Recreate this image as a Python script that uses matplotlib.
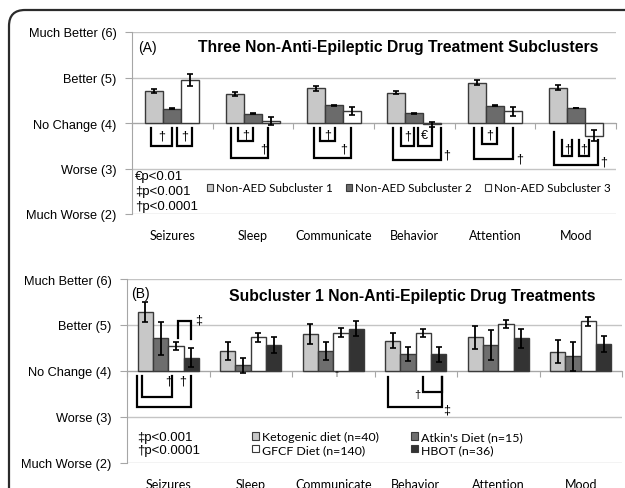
import matplotlib
matplotlib.use('Agg')
import matplotlib.pyplot as plt
from matplotlib.patches import Patch, FancyBboxPatch
import numpy as np

plt.rcParams['font.family'] = ['Liberation Sans', 'DejaVu Sans']

categories = ['Seizures', 'Sleep', 'Communicate', 'Behavior', 'Attention', 'Mood']
y_ticks = [2, 3, 4, 5, 6]
y_labels = ['Much Worse (2)', 'Worse (3)', 'No Change (4)', 'Better (5)', 'Much Better (6)']

# panel A - three non-AED subclusters
a_names = ['Non-AED Subcluster 1', 'Non-AED Subcluster 2', 'Non-AED Subcluster 3']
a_sub1 = [4.70, 4.64, 4.76, 4.67, 4.89, 4.78]
a_sub1_err = [0.05, 0.05, 0.05, 0.04, 0.05, 0.05]
a_sub2 = [4.31, 4.20, 4.39, 4.21, 4.38, 4.33]
a_sub2_err = [0.01, 0.01, 0.015, 0.01, 0.015, 0.01]
a_sub3 = [4.95, 4.04, 4.26, 3.97, 4.26, 3.72]
a_sub3_err = [0.13, 0.09, 0.09, 0.05, 0.10, 0.12]

# panel B - subcluster 1 treatments
b_names = ['Ketogenic diet (n=40)', "Atkin's Diet (n=15)", 'GFCF Diet (n=140)', 'HBOT (n=36)']
b_keto = [5.28, 4.43, 4.80, 4.66, 4.73, 4.42]
b_keto_err = [0.22, 0.20, 0.22, 0.17, 0.25, 0.25]
b_atkin = [4.71, 4.12, 4.43, 4.37, 4.57, 4.32]
b_atkin_err = [0.36, 0.17, 0.19, 0.16, 0.33, 0.31]
b_gfcf = [4.54, 4.73, 4.83, 4.83, 5.02, 5.08]
b_gfcf_err = [0.08, 0.09, 0.10, 0.08, 0.09, 0.10]
b_hbot = [4.29, 4.57, 4.92, 4.36, 4.71, 4.59]
b_hbot_err = [0.20, 0.17, 0.16, 0.17, 0.20, 0.17]

# significance brackets: (category, x1 offset, x2 offset, top1, top2, level)
a_brackets = [
    (0, -0.26, 0.0, 3.89, 3.89, 3.49), (0, 0.062, 0.248, 3.89, 3.89, 3.49),
    (1, -0.18, 0.0, 3.9, 3.9, 3.6), (1, -0.27, 0.19, 3.9, 3.9, 3.23),
    (2, -0.17, 0.02, 3.9, 3.9, 3.6), (2, -0.25, 0.22, 3.9, 3.9, 3.23),
    (3, -0.16, 0.0, 3.9, 3.9, 3.5), (3, 0.04, 0.22, 3.9, 3.88, 3.5),
    (3, -0.26, 0.33, 3.9, 3.9, 3.19),
    (4, -0.16, 0.03, 3.9, 3.9, 3.54), (4, -0.26, 0.225, 3.9, 3.9, 3.21),
    (5, -0.17, -0.04, 3.63, 3.63, 3.27), (5, 0.04, 0.17, 3.63, 3.63, 3.27),
    (5, -0.27, 0.28, 3.8, 3.62, 3.07),
]
a_marks = [
    (0, -0.13, 3.72, '†', 9), (0, 0.155, 3.72, '†', 9),
    (1, -0.09, 3.75, '†', 9), (1, 0.13, 3.43, '†', 9),
    (2, -0.075, 3.75, '†', 9), (2, 0.12, 3.43, '†', 9),
    (3, -0.08, 3.73, '†', 9), (3, 0.13, 3.73, '€', 9), (3, 0.40, 3.3, '†', 9),
    (4, -0.065, 3.75, '†', 9), (4, 0.31, 3.23, '†', 9),
    (5, -0.105, 3.45, '†', 9), (5, 0.105, 3.45, '†', 9), (5, 0.35, 3.16, '†', 9),
]
b_brackets = [
    (0, -0.32, 0.04, 3.9, 3.9, 3.43), (0, -0.38, 0.27, 3.9, 3.9, 3.22),
    (0, 0.115, 0.27, 4.72, 4.70, 5.09),
    (3, 0.085, 0.315, 3.87, 3.87, 3.54), (3, -0.34, 0.315, 3.87, 3.87, 3.22),
]
b_marks = [
    (0, 0.0, 3.8, '†', 9), (0, 0.18, 3.8, '†', 9), (0, 0.37, 5.13, '‡', 9),
    (2, 0.04, 3.95, '†', 5), (3, 0.02, 3.5, '†', 8), (3, 0.375, 3.17, '‡', 9),
]


def draw_panel(ax, series, width, brackets, marks):
    n = len(series)
    x = np.arange(len(categories))
    handles = []
    for k, (name, vals, errs, col) in enumerate(series):
        xs = x + (k - (n - 1) / 2) * width
        vals = np.array(vals)
        ax.bar(xs, vals - 4, bottom=4, width=width, color=col, edgecolor='#3a3a3a',
               linewidth=1, yerr=errs, zorder=3,
               error_kw=dict(ecolor='black', elinewidth=1.3, capsize=2, capthick=1.2, zorder=4))
        handles.append(Patch(facecolor=col, edgecolor='#3a3a3a', linewidth=0.8, label=name))
    for cat, o1, o2, t1, t2, lev in brackets:
        ax.plot([cat + o1, cat + o1, cat + o2, cat + o2], [t1, lev, lev, t2],
                color='black', lw=1.6, zorder=5, solid_joinstyle='miter')
    for cat, o, yv, s, fs in marks:
        ax.text(cat + o, yv, s, ha='center', va='center', fontsize=fs, zorder=6)

    ax.set_xlim(-0.5, len(categories) - 0.5)
    ax.set_ylim(2, 6)
    ax.set_yticks(y_ticks, y_labels)
    ax.tick_params(axis='y', length=5, color='#a6a6a6', pad=6, labelsize=9.2)
    ax.yaxis.grid(True, color='#c4c4c4', lw=1)
    ax.set_axisbelow(True)
    for s in ['top', 'right']:
        ax.spines[s].set_visible(False)
    ax.spines['left'].set_color('#a6a6a6')
    ax.spines['bottom'].set_position(('data', 4))
    ax.spines['bottom'].set_color('#a6a6a6')
    ax.set_xticks(np.arange(-0.5, len(categories), 1))
    ax.tick_params(axis='x', length=4, color='#a6a6a6', labelbottom=False)
    for i, c in enumerate(categories):
        ax.annotate(c, xy=(i, 0), xycoords=('data', 'axes fraction'), xytext=(0, -15),
                    textcoords='offset points', ha='center', va='center',
                    fontsize=9, family=['Lato', 'DejaVu Sans'])
    return handles


fig = plt.figure(figsize=(6.25, 4.89), dpi=100)

ax_a = fig.add_axes([132 / 625, 274 / 489, 484 / 625, 182 / 489])
h_a = draw_panel(ax_a, [(a_names[0], a_sub1, a_sub1_err, '#c8c8c8'),
                        (a_names[1], a_sub2, a_sub2_err, '#6b6b6b'),
                        (a_names[2], a_sub3, a_sub3_err, 'white')],
                 0.223, a_brackets, a_marks)
ax_a.text(0.012, 0.918, '(A)', transform=ax_a.transAxes, fontsize=10, va='center')
ax_a.text(0.55, 0.923, 'Three Non-Anti-Epileptic Drug Treatment Subclusters',
          transform=ax_a.transAxes, fontsize=11.3, fontweight='bold', ha='center', va='center')
for yy, s in zip([0.209, 0.126, 0.044], ['€p<0.01', '‡p<0.001', '†p<0.0001']):
    ax_a.text(0.006, yy, s, transform=ax_a.transAxes, fontsize=9.5, va='center')
ax_a.legend(handles=h_a, loc='center left', bbox_to_anchor=(0.155, 0.143), ncol=3,
            frameon=False, borderpad=0, borderaxespad=0, handlelength=0.55,
            handleheight=0.55, handletextpad=0.25, columnspacing=1.1,
            prop=dict(family=['Lato', 'DejaVu Sans'], size=8.4))

ax_b = fig.add_axes([127 / 625, 25 / 489, 495 / 625, 184 / 489])
h_b = draw_panel(ax_b, [(b_names[0], b_keto, b_keto_err, '#c8c8c8'),
                        (b_names[1], b_atkin, b_atkin_err, '#6e6e6e'),
                        (b_names[2], b_gfcf, b_gfcf_err, 'white'),
                        (b_names[3], b_hbot, b_hbot_err, '#333333')],
                 0.185, b_brackets, b_marks)
ax_b.text(0.008, 0.924, '(B)', transform=ax_b.transAxes, fontsize=10, va='center')
ax_b.text(0.576, 0.908, 'Subcluster 1 Non-Anti-Epileptic Drug Treatments',
          transform=ax_b.transAxes, fontsize=11.3, fontweight='bold', ha='center', va='center')
for yy, s in zip([0.141, 0.071], ['‡p<0.001', '†p<0.0001']):
    ax_b.text(0.02, yy, s, transform=ax_b.transAxes, fontsize=9.5, va='center')
ax_b.legend(handles=[h_b[0], h_b[2], h_b[1], h_b[3]], loc='center left',
            bbox_to_anchor=(0.253, 0.108), ncol=2, frameon=False,
            borderpad=0, borderaxespad=0, handlelength=0.55, handleheight=0.55,
            handletextpad=0.25, columnspacing=2.6, labelspacing=0.12,
            prop=dict(family=['Lato', 'DejaVu Sans'], size=8.9))

# rounded outer frame, cut off at right and bottom
frame = FancyBboxPatch((0.09, -0.3), 7.0, 4.78 + 0.3,
                       boxstyle='round,pad=0,rounding_size=0.16',
                       transform=fig.dpi_scale_trans, fill=False,
                       ec='#2b2b2b', lw=1.6, clip_on=False)
fig.add_artist(frame)

fig.savefig('out.png', dpi=100)
